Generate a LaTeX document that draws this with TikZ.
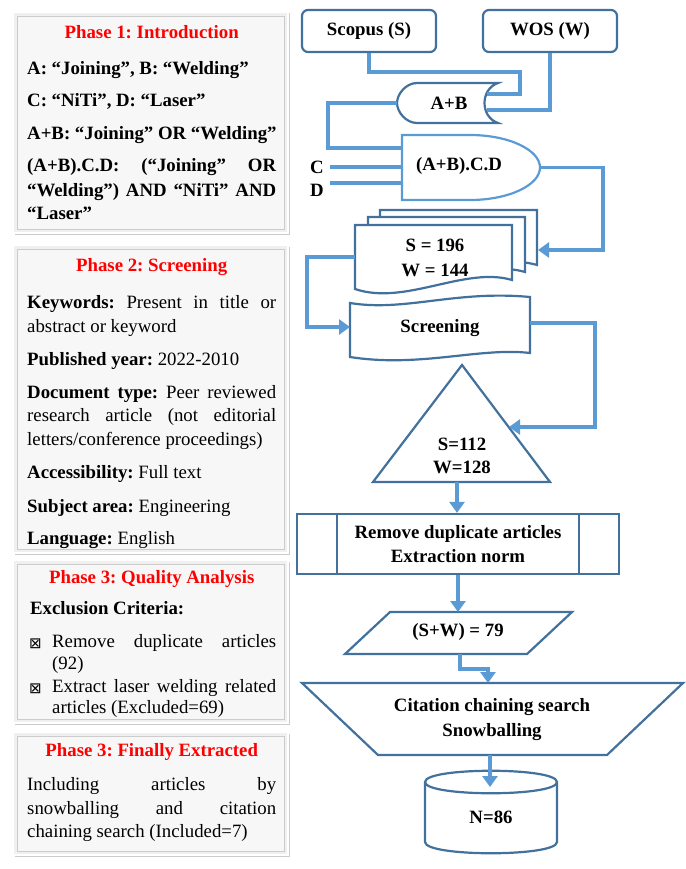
\documentclass[tikz,border=0pt]{standalone}
\usepackage{fontspec}
\setmainfont{Liberation Serif}
\newfontfamily\symfont{DejaVu Sans}
\usetikzlibrary{arrows.meta,shadows}
\frenchspacing
\definecolor{edgeblue}{HTML}{41719C}
\definecolor{linkblue}{HTML}{5B9BD5}
\newcommand\ptitle[1]{\makebox[249pt]{\color{red}\bfseries #1}}
\newcommand\jl[1]{\makebox[249pt][s]{\spaceskip=.25em plus 3em\relax #1}}
\newcommand\jlw[1]{\makebox[224pt][s]{\spaceskip=.25em plus 3em\relax #1}}
\newcommand\bx{\makebox[25pt][l]{\hspace{2pt}\raisebox{-1pt}{\symfont\fontsize{15}{15}\selectfont ⊠}}}
\tikzset{
  panel/.style={fill=gray!12,draw=white,line width=1.2pt,drop shadow={opacity=.4,shadow xshift=1.5pt,shadow yshift=-1.5pt}},
  panelin/.style={fill=gray!6,draw=gray!40,line width=.8pt},
  ptext/.style={anchor=north west,inner sep=0pt,text width=249pt,align=justify,font=\fontsize{18.8}{23.5}\selectfont},
  txt/.style={font=\fontsize{18.8}{24}\selectfont\bfseries,align=center,inner sep=0pt},
  shp/.style={draw=edgeblue,line width=2.2pt,fill=white},
  box/.style={shp,txt,minimum width=134pt,minimum height=42pt,rounded corners=6pt},
  conn/.style={draw=linkblue,line width=3.6pt},
  arr/.style={conn,-{Triangle[length=11pt,width=15pt]}}
}
\begin{document}
\begin{tikzpicture}[x=1pt,y=-1pt]
\useasboundingbox (0,0) rectangle (685,869);
\foreach \ya/\yb in {12/233,245/553,560/723,732/855}{
  \draw[panel] (13,\ya) rectangle (288,\yb);
  \draw[panelin] (17,\ya+4) rectangle (284,\yb-4);
}
\node[ptext,font=\fontsize{18.8}{23.5}\selectfont\bfseries] (phaseone) at (27,25.3) {\ptitle{Phase 1: Introduction}\\[12.5pt]
A: “Joining”, B: “Welding”\\[8.5pt]
C: “NiTi”, D: “Laser”\\[9.5pt]
\jl{A+B: “Joining” OR “Welding”}\\[8.5pt]
\jl{(A+B).C.D: (“Joining” OR}\\[1pt]
\jl{“Welding”) AND “NiTi” AND}\\[-.5pt]
“Laser”};
\node[ptext] (phasetwo) at (27,258.3) {\ptitle{Phase 2: Screening}\\[13.5pt]
\jl{\textbf{Keywords:} Present in title or}\\
abstract or keyword\\[9.5pt]
\textbf{Published year:} 2022-2010\\[9.5pt]
\jl{\textbf{Document type:} Peer reviewed}\\
\jl{research article (not editorial}\\
letters/conference proceedings)\\[9.5pt]
\textbf{Accessibility:} Full text\\[10.5pt]
\textbf{Subject area:} Engineering\\[8.5pt]
\textbf{Language:} English};
\node[ptext] (phasethree) at (27,570.3) {\ptitle{Phase 3: Quality Analysis}\\[7.5pt]
\hspace*{3pt}\textbf{Exclusion Criteria:}\\[9.5pt]
\bx\jlw{Remove duplicate articles}\\[-1.5pt]
\hspace*{25pt}(92)\\[-.5pt]
\bx\jlw{Extract laser welding related}\\[-2.5pt]
\hspace*{25pt}articles (Excluded=69)};
\node[ptext] (phasefour) at (27,743.3) {\ptitle{Phase 3: Finally Extracted}\\[10.5pt]
\jl{Including articles by}\\
\jl{snowballing and citation}\\
chaining search (Included=7)};

\node[box] (scopus) at (369,31) {Scopus (S)};
\node[box] (wos) at (550,31) {WOS (W)};
\draw[shp] (498,83) -- (417,83) .. controls (406,83) and (397,94) .. (397,103) .. controls (397,112) and (406,123) .. (417,123) -- (498,123) .. controls (480,117) and (480,89) .. (498,83) -- cycle;
\node[txt] (orgate) at (449,103) {A+B};
\draw[shp,draw=linkblue] (402,135) -- (470,135) .. controls (509,135) and (540,150) .. (540,167.5) .. controls (540,185) and (509,200) .. (470,200) -- (402,200) -- cycle;
\node[txt] (andgate) at (459,166) {(A+B).C.D};
\node[txt,inner xsep=6pt] (clab) at (317,167) {C};
\node[txt,inner xsep=6pt] (dlab) at (317,190) {D};
\foreach \dx/\dy in {25/15,13/8,0/0}
  \draw[shp] (355+\dx,225-\dy) -- (512+\dx,225-\dy) -- (512+\dx,280-\dy) .. controls (465+\dx,266-\dy) and (405+\dx,306-\dy) .. (355+\dx,289-\dy) -- cycle;
\node[txt] (docs) at (435,257.5) {S = 196\\[1pt]W = 144};
\draw[shp] (350,303) .. controls (405,312) and (455,290) .. (530,297) -- (530,353) .. controls (480,347) and (420,368) .. (350,357) -- cycle;
\node[txt] (screen) at (440,328) {Screening};
\draw[shp] (462,365) -- (550,482) -- (373,482) -- cycle;
\node[txt] (tri) at (462,456) {S=112\\[-1pt]W=128};
\node[shp,txt,minimum width=322pt,minimum height=60pt] (proc) at (458,544) {Remove duplicate articles\\Extraction norm};
\draw[shp] ([xshift=41pt]proc.north west) -- ([xshift=41pt]proc.south west);
\draw[shp] ([xshift=-41pt]proc.north east) -- ([xshift=-41pt]proc.south east);
\draw[shp] (390,612) -- (572,612) -- (527,654) -- (345,654) -- cycle;
\node[txt] (para) at (458,632) {(S+W) = 79};
\draw[shp] (302,683) -- (683,683) -- (607,755) -- (378,755) -- cycle;
\node[txt] (trap) at (492,720) {Citation chaining search\\[1pt]Snowballing};
\draw[shp] (425,782) -- (425,842) .. controls (425,857) and (557,857) .. (557,842) -- (557,782) .. controls (557,767) and (425,767) .. (425,782) -- cycle;
\draw[shp] (425,782) .. controls (425,797) and (557,797) .. (557,782);
\node[txt] (cyl) at (491,817) {N=86};

\coordinate (orin1) at (487,94);
\coordinate (orin2) at (487,110);
\coordinate (orout) at (397,103);
\coordinate (andin1) at (402,148);
\coordinate (andin2) at (402,167);
\coordinate (andin3) at (402,183);
\coordinate (andout) at (541,167.5);
\coordinate (docin) at (538,250);
\coordinate (docout) at (355,257);
\coordinate (tapein) at (350,327);
\coordinate (tapeout) at (530,323);
\coordinate (triin) at (509,427);
\coordinate (tribase) at (457,482);
\coordinate (parain) at (458,612);
\coordinate (paraout) at (460,654);
\coordinate (trapin) at (488,683);
\coordinate (trapout) at (490,755);
\coordinate (cylin) at (490,787);
\draw[conn] (scopus.south) |- (520,72) |- (orin1);
\draw[conn] (wos.south) |- (orin2);
\draw[conn] (orout) -| (328,148) -- (andin1);
\draw[conn] (clab) -- (andin2);
\draw[conn] (andin3) -- (andin3 -| dlab.east);
\draw[arr] (andout) -| (603,250) -- (docin);
\draw[arr] (docout) -| (307,327) -- (tapein);
\draw[arr] (tapeout) -| (595,427) -- (triin);
\draw[arr] (tribase) -- (tribase |- proc.north);
\draw[arr] (proc.south) -- (parain);
\draw[arr] (paraout) |- (488,669) -- (trapin);
\draw[arr] (trapout) -- (cylin);
\end{tikzpicture}
\end{document}
